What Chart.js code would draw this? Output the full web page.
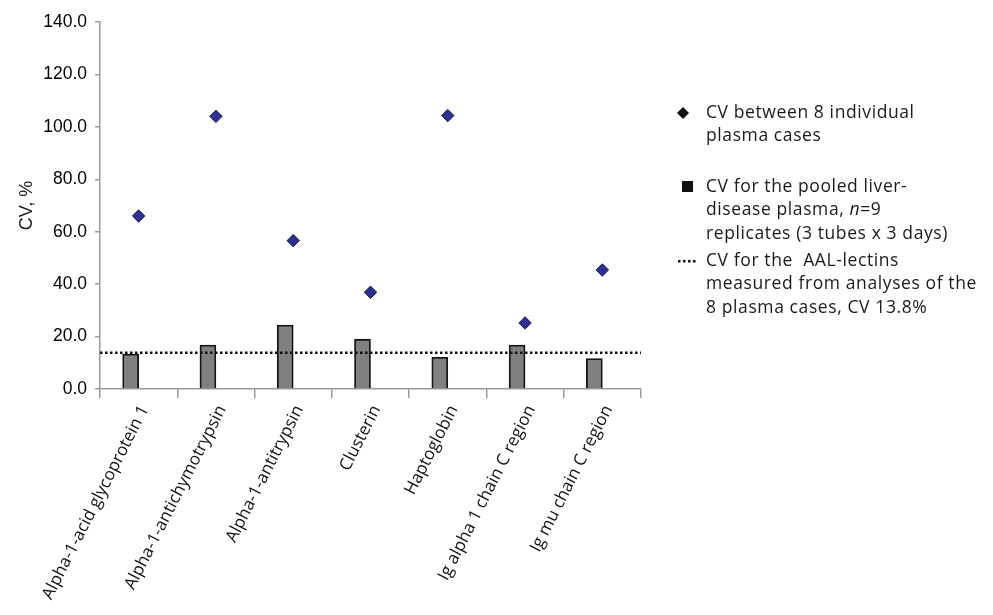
<!DOCTYPE html>
<html>
<head>
<meta charset="utf-8">
<script src="https://cdn.jsdelivr.net/npm/chart.js@4.4.1/dist/chart.umd.min.js"></script>
<style>
  html, body { margin: 0; padding: 0; background: #fff; }
  #wrap { width: 993px; height: 615px; }
</style>
</head>
<body>
<div id="wrap"><canvas id="canvas" width="993" height="615"></canvas></div>
<script>
var proteins = [
    'Alpha-1-acid glycoprotein 1',
    'Alpha-1-antichymotrypsin',
    'Alpha-1-antitrypsin',
    'Clusterin',
    'Haptoglobin',
    'Ig alpha 1 chain C region',
    'Ig mu chain C region'
];
var cv_individual = [66.0, 104.0, 56.6, 36.9, 104.3, 25.2, 45.4];
var cv_pooled = [13.3, 16.8, 24.4, 19.0, 12.1, 16.8, 11.6];
var cv_lectins = 13.8;
var y_ticks = [0, 20, 40, 60, 80, 100, 120, 140];

var legend_items = [
    {mark: 'diamond', lines: ['CV between 8 individual', 'plasma cases']},
    {mark: 'square', lines: ['CV for the pooled liver-', 'disease plasma, n=9', 'replicates (3 tubes x 3 days)']},
    {mark: 'dots', lines: ['CV for the  AAL-lectins', 'measured from analyses of the', '8 plasma cases, CV 13.8%']}
];

var axisGray = '#9a9a9a';
var legendFont = '17.5px "Open Sans", sans-serif';

// legend on the right, drawn by hand (multi-line entries)
var sideLegend = {
    id: 'sideLegend',
    afterDraw: function(chart) {
        var ctx = chart.ctx;
        var tops = [113, 187, 261];
        ctx.save();
        ctx.letterSpacing = '0.6px';
        ctx.font = legendFont;
        ctx.fillStyle = '#1a1a1a';
        ctx.textBaseline = 'middle';
        legend_items.forEach(function(item, i) {
            var y0 = tops[i];
            item.lines.forEach(function(line, j) {
                var y = y0 + j * 23.5;
                if (line.indexOf('n=9') >= 0) {
                    var pre = 'disease plasma, ';
                    ctx.font = legendFont;
                    ctx.fillText(pre, 706, y);
                    var w = ctx.measureText(pre).width;
                    ctx.font = 'italic ' + legendFont;
                    ctx.fillText('n', 706 + w, y);
                    var w2 = ctx.measureText('n').width;
                    ctx.font = legendFont;
                    ctx.fillText('=9', 706 + w + w2, y);
                } else {
                    ctx.fillText(line, 706, y);
                }
            });
            ctx.fillStyle = '#111';
            if (item.mark == 'diamond') {
                ctx.beginPath();
                ctx.moveTo(683, y0 - 6);
                ctx.lineTo(689, y0);
                ctx.lineTo(683, y0 + 6);
                ctx.lineTo(677, y0);
                ctx.closePath();
                ctx.fill();
            } else if (item.mark == 'square') {
                ctx.fillRect(682, y0 - 6, 11, 11);
            } else {
                for (var k = 0; k < 4; k++) {
                    ctx.fillRect(678 + k * 5, y0 - 1, 2.5, 2.5);
                }
            }
            ctx.fillStyle = '#1a1a1a';
        });
        ctx.restore();
    }
};

var chart = new Chart(document.getElementById('canvas').getContext('2d'), {
    type: 'bar',
    data: {
        labels: proteins,
        datasets: [{
                type: 'line',
                label: 'CV between 8 individual plasma cases',
                data: cv_individual,
                showLine: false,
                pointStyle: 'rectRot',
                pointRadius: 6.2,
                pointBackgroundColor: '#2e3192',
                pointBorderColor: '#15173f',
                pointBorderWidth: 1,
                order: 0
            }, {
                type: 'line',
                label: 'CV for the AAL-lectins',
                xAxisID: 'x2',
                data: [{x: 0, y: cv_lectins}, {x: 7, y: cv_lectins}],
                borderColor: '#111',
                borderWidth: 2.5,
                borderDash: [2.5, 2.5],
                pointRadius: 0,
                order: 1
            }, {
                label: 'CV for the pooled liver-disease plasma',
                data: cv_pooled,
                backgroundColor: '#808080',
                borderColor: '#151515',
                borderWidth: 1.8,
                borderSkipped: 'bottom',
                barThickness: 16,
                order: 2
            }]
    },
    plugins: [sideLegend],
    options: {
        responsive: false,
        animation: false,
        layout: {
            padding: {left: 0, right: 352, top: 22, bottom: 0}
        },
        plugins: {
            legend: {display: false},
            tooltip: {enabled: false}
        },
        scales: {
            x: {
                type: 'category',
                border: {color: axisGray, width: 1.5},
                grid: {
                    offset: true,
                    drawOnChartArea: false,
                    drawTicks: true,
                    tickLength: 9,
                    color: axisGray,
                    lineWidth: 1.5
                },
                ticks: {
                    minRotation: 63,
                    maxRotation: 63,
                    autoSkip: false,
                    padding: 4,
                    labelOffset: 6,
                    color: '#111',
                    font: {family: '"Open Sans", sans-serif', size: 17}
                },
                afterFit: function(s) { s.height = 226; }
            },
            x2: {
                type: 'linear',
                display: false,
                offset: false,
                min: 0,
                max: 7
            },
            y: {
                min: 0,
                max: 140,
                afterBuildTicks: function(s) {
                    s.ticks = y_ticks.map(function(v) { return {value: v}; });
                },
                border: {color: axisGray, width: 1.5},
                grid: {
                    drawOnChartArea: false,
                    drawTicks: true,
                    tickLength: 5,
                    color: axisGray,
                    lineWidth: 1.5
                },
                ticks: {
                    padding: 8,
                    color: '#000',
                    font: {family: '"Liberation Sans", Arial, sans-serif', size: 17.5},
                    callback: function(v) { return Number(v).toFixed(1); }
                },
                title: {
                    display: true,
                    text: 'CV, %',
                    color: '#1a1a1a',
                    padding: {top: 16, bottom: 0},
                    font: {family: '"Liberation Sans", Arial, sans-serif', size: 18}
                },
                afterFit: function(s) { s.width = 100; }
            }
        }
    }
});
</script>
</body>
</html>
